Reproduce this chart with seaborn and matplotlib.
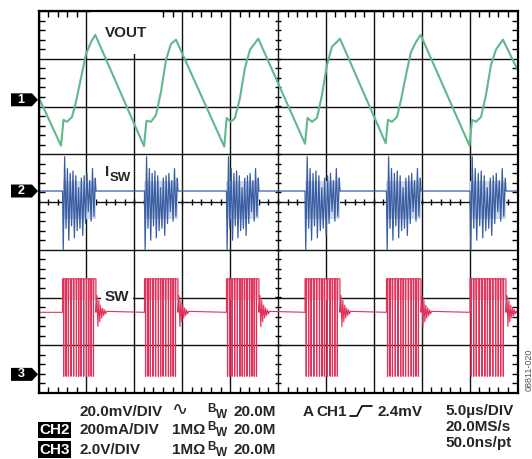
import numpy as np
import pandas as pd
import matplotlib
matplotlib.use("Agg")
import matplotlib.pyplot as plt
import matplotlib.transforms as mtransforms
from matplotlib.patches import Polygon
from matplotlib.lines import Line2D
from matplotlib.ticker import MultipleLocator
import seaborn as sns

# time in us (5 us/div), amplitude in divisions
vout_t = [0.00, 2.35, 2.61, 2.97, 3.50, 3.91, 4.44, 4.96, 5.48, 5.93,
          11.01, 11.27, 11.74, 12.26, 12.79, 13.31, 13.83, 14.35,
          19.39, 19.64, 20.09, 20.51, 21.03, 21.55, 22.08, 22.94,
          27.82, 28.08, 28.55, 29.07, 29.59, 30.11, 30.63, 31.47,
          36.24, 36.48, 36.90, 37.42, 37.84, 38.36, 38.88, 39.40, 39.89,
          44.99, 45.25, 45.67, 46.19, 46.71, 47.23, 47.75, 48.48, 50.00]
vout_v = [2.20, 1.18, 1.72, 1.68, 1.78, 2.10, 2.60, 3.10, 3.35, 3.50,
          1.17, 1.70, 1.68, 1.82, 2.31, 2.98, 3.31, 3.40,
          1.16, 1.76, 1.68, 1.76, 2.18, 2.81, 3.19, 3.42,
          1.22, 1.76, 1.68, 1.76, 2.24, 2.87, 3.25, 3.42,
          1.23, 1.72, 1.68, 1.78, 2.14, 2.66, 3.14, 3.35, 3.50,
          1.18, 1.72, 1.68, 1.78, 2.24, 2.87, 3.19, 3.40, 2.77]

burst_start = [2.51, 11.06, 19.62, 27.82, 36.32, 45.04]
burst_end = [6.00, 14.56, 23.01, 31.47, 39.93, 48.80]

isw_base = 0.23
isw_swing = [-1.00, 0.95, -0.55, 0.70, -0.80, 0.60, -0.50, 0.65, -0.75, 0.55,
             -0.60, 0.30, -0.55, 0.50, -0.70, 0.55, -0.45, 0.60, -0.20, 0.45,
             -0.40, 0.70, -0.30, 0.50]

sw_base = -2.31
sw_high = -1.61
sw_low = -3.65
sw_pulse_pos = [0.03, 0.10, 0.17, 0.25, 0.33, 0.41, 0.48, 0.55, 0.63, 0.71,
                0.78, 0.85, 0.92]
sw_ring = [0.35, -0.30, 0.25, -0.20, 0.15, -0.12, 0.09, -0.07, 0.05, -0.03, 0.02]

ch_ref = [2.14, 0.23, -3.61]
ch_names = ["1", "2", "3"]

# build traces
sw_t, sw_v = [0.0], [sw_base]
isw_t, isw_v = [0.0], [isw_base]
for s, e in zip(burst_start, burst_end):
    sw_t += [s, s]
    sw_v += [sw_base, sw_high]
    for f in sw_pulse_pos:
        tp = s + f * (e - s)
        sw_t += [tp, tp, tp + 0.03, tp + 0.03]
        sw_v += [sw_high, sw_low, sw_low, sw_high]
    sw_t += [e, e]
    sw_v += [sw_high, sw_base]
    for k, r in enumerate(sw_ring):
        sw_t.append(e + 0.1 * (k + 1))
        sw_v.append(sw_base + r)
    isw_t.append(s)
    isw_v.append(isw_base)
    n = len(isw_swing)
    for k, a in enumerate(isw_swing):
        isw_t.append(s + (k + 0.5) * (e - s) / n)
        isw_v.append(a)
    isw_t.append(e)
    isw_v.append(isw_base)
sw_t.append(50.0)
sw_v.append(sw_base)
isw_t.append(50.0)
isw_v.append(isw_base)

sns.set_style("white")
plt.rcParams["font.family"] = ["Liberation Sans", "DejaVu Sans"]
plt.rcParams["font.weight"] = "bold"

W, H = 532, 459
fig = plt.figure(figsize=(W / 100, H / 100), dpi=100)
ax = fig.add_axes([38.5 / W, 1 - 393 / H, 479 / W, 382 / H])

green = "#5fb98c"
blue = "#3a5ea2"
red = "#e0325a"

# light aliasing haze inside the bursts
for s, e in zip(burst_start, burst_end):
    ax.fill_between([s, e], [sw_high, sw_high], [sw_high - 0.45, sw_high - 0.45],
                    color="#f7c4d0", lw=0, zorder=1.2)
    ax.fill_between([s, e], [0.45, 0.45], [-0.35, -0.35],
                    color="#cdd8ec", lw=0, zorder=1.2)

sns.lineplot(x=vout_t, y=vout_v, ax=ax, color=green, lw=1.5, sort=False, estimator=None)
sns.lineplot(x=isw_t, y=isw_v, ax=ax, color=blue, lw=0.9, sort=False, estimator=None)
sns.lineplot(x=sw_t, y=sw_v, ax=ax, color=red, lw=0.8, sort=False, estimator=None)

ax.set_xlim(0, 50)
ax.set_ylim(-4, 4)
ax.xaxis.set_major_locator(MultipleLocator(5))
ax.yaxis.set_major_locator(MultipleLocator(1))
ax.xaxis.set_minor_locator(MultipleLocator(1))
ax.yaxis.set_minor_locator(MultipleLocator(0.2))
ax.tick_params(which="major", length=0, labelbottom=False, labelleft=False)
ax.tick_params(which="minor", direction="in", length=4, width=1, color="k",
               top=True, bottom=True, left=True, right=True)
ax.grid(True, which="major", color="#111111", lw=1)
ax.set_axisbelow(True)
for sp in ax.spines.values():
    sp.set_color("k")
    sp.set_linewidth(1.6)
ax.set_xlabel("")
ax.set_ylabel("")

# center-line ticks
ax.plot(np.arange(0, 50.1, 1), np.zeros(51), ls="none", marker="|", ms=5, mew=1,
        color="k", zorder=1)
ax.plot(np.full(41, 25.0), np.arange(-4, 4.01, 0.2), ls="none", marker="_", ms=5,
        mew=1, color="k", zorder=1)

# trace labels
ax.text(9.13, 3.54, "VOUT", ha="center", va="center", fontsize=11, fontweight="bold",
        zorder=1.5, bbox=dict(fc="white", ec="none", boxstyle="square,pad=0.9"))
ax.text(6.94, 0.63, "I", ha="left", va="center", fontsize=11, fontweight="bold")
ax.text(7.41, 0.50, "SW", ha="left", va="center", fontsize=9.5, fontweight="bold")
ax.text(6.94, -1.99, "SW", ha="left", va="center", fontsize=11, fontweight="bold",
        bbox=dict(fc="white", ec="none", boxstyle="square,pad=0.25"))

# channel markers
trans = mtransforms.blended_transform_factory(fig.transFigure, ax.transData)
hh = 0.136
for ref, name in zip(ch_ref, ch_names):
    poly = Polygon([(11 / W, ref - hh), (32 / W, ref - hh), (38 / W, ref),
                    (32 / W, ref + hh), (11 / W, ref + hh)],
                   closed=True, fc="black", ec="none", transform=trans, clip_on=False)
    ax.add_patch(poly)
    ax.text(21 / W, ref, name, transform=trans, color="white", fontsize=9,
            fontweight="bold", ha="center", va="center", clip_on=False)


def ft(x, y, s, size=11, weight="bold", **kw):
    fig.text(x / W, 1 - y / H, s, fontsize=size, fontweight=weight, ha="left",
             va="center", **kw)


for y in [411.5, 430, 449.5]:
    ft(207, y - 2.5, "B", size=8.5)
    ft(216, y + 3, "W", size=8.5)
    ft(234, y, "20.0M")

ft(80, 411.5, "20.0mV/DIV")
ft(172, 410, "\u223f", size=14, weight="normal", family=["DejaVu Sans"])
ft(303, 411.5, "A")
ft(316, 411.5, "CH1")
ft(377, 411.5, "2.4mV")
fig.add_artist(Line2D([350 / W, 357 / W, 362 / W, 372 / W],
                      [1 - 416 / H, 1 - 416 / H, 1 - 406 / H, 1 - 406 / H],
                      color="k", lw=1.2))
ft(445, 410.7, "5.0\u00b5s/DIV")
ft(445, 427.3, "20.0MS/s")
ft(445, 442.7, "50.0ns/pt")

ft(39, 430, "CH2", color="white", bbox=dict(fc="black", ec="none", boxstyle="square,pad=0.08"))
ft(80, 430, "200mA/DIV")
ft(172, 430, "1M\u03a9")
ft(39, 449.5, "CH3", color="white", bbox=dict(fc="black", ec="none", boxstyle="square,pad=0.08"))
ft(80, 449.5, "2.0V/DIV")
ft(172, 449.5, "1M\u03a9")

fig.text(529 / W, 1 - 370 / H, "08811-020", rotation=90, fontsize=6.5, color="#555555",
         ha="center", va="center", fontweight="normal")

fig.savefig("out.png", dpi=100)
